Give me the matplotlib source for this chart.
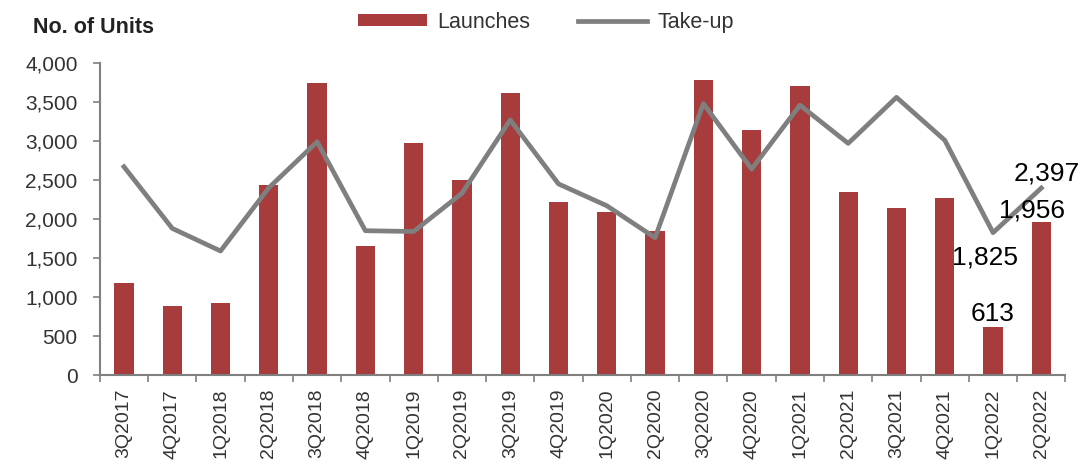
import numpy as np
import matplotlib
matplotlib.use("Agg")
import matplotlib.pyplot as plt
from matplotlib.ticker import FuncFormatter, FixedLocator

plt.rcParams['font.family'] = ['Liberation Sans', 'DejaVu Sans']

# Data
quarters = ["3Q2017", "4Q2017", "1Q2018", "2Q2018", "3Q2018", "4Q2018",
            "1Q2019", "2Q2019", "3Q2019", "4Q2019", "1Q2020", "2Q2020",
            "3Q2020", "4Q2020", "1Q2021", "2Q2021", "3Q2021", "4Q2021",
            "1Q2022", "2Q2022"]
launches = [1180, 880, 920, 2430, 3750, 1650, 2980, 2500, 3620, 2220,
            2090, 1850, 3780, 3140, 3710, 2350, 2140, 2270, 613, 1956]
take_up = [2670, 1880, 1590, 2400, 2990, 1850, 1840, 2330, 3270, 2450,
           2170, 1760, 3480, 2640, 3460, 2970, 3560, 3010, 1825, 2397]

bar_color = "#A83B3B"
line_color = "#7F7F7F"
axis_color = "#808080"

fig = plt.figure(figsize=(10.85, 4.65), dpi=100)
ax = fig.add_axes([0.092, 0.1935, 0.89, 0.671])

x = np.arange(len(quarters))
bars = ax.bar(x, launches, width=0.4, color=bar_color, label="Launches", zorder=2)
line, = ax.plot(x, take_up, color=line_color, linewidth=3.4, label="Take-up", zorder=3)

ax.set_ylim(0, 4000)
ax.set_xlim(-0.5, len(quarters) - 0.5)
ax.set_yticks(np.arange(0, 4001, 500))
ax.yaxis.set_major_formatter(FuncFormatter(lambda v, p: f"{int(v):,}"))
ax.tick_params(axis='y', labelsize=15, colors=axis_color, labelcolor="#333333",
               length=5, width=1.2, direction='out', pad=11)

ax.set_xticks(x)
ax.set_xticklabels(quarters, rotation=90, fontsize=14, color="#333333")
ax.tick_params(axis='x', length=0, pad=10)
ax.xaxis.set_minor_locator(FixedLocator(np.arange(-0.5, len(quarters), 1.0)))
ax.tick_params(axis='x', which='minor', length=5, width=1.2, colors=axis_color,
               direction='out')

for s in ["top", "right"]:
    ax.spines[s].set_visible(False)
for s in ["left", "bottom"]:
    ax.spines[s].set_color(axis_color)
    ax.spines[s].set_linewidth(1.5)

# Annotations for latest quarters
i1, i2 = len(quarters) - 2, len(quarters) - 1
ax.annotate(f"{launches[i1]:,}", (x[i1], launches[i1]), xytext=(0, 1),
            textcoords="offset points", ha="center", va="bottom", fontsize=19)
ax.annotate(f"{take_up[i1]:,}", (x[i1], take_up[i1]), xytext=(-6, -9),
            textcoords="offset points", ha="center", va="top", fontsize=19)
ax.annotate(f"{launches[i2]:,}", (x[i2], launches[i2]), xytext=(-7, 0),
            textcoords="offset points", ha="center", va="bottom", fontsize=19)
ax.annotate(f"{take_up[i2]:,}", (x[i2], take_up[i2]), xytext=(4, 2),
            textcoords="offset points", ha="center", va="bottom", fontsize=19,
            annotation_clip=False)

fig.text(0.03, 0.94, "No. of Units", fontsize=15.5, fontweight="bold",
         color="#222222", va="center")

fig.legend(handles=[bars, line], labels=["Launches", "Take-up"], loc="center",
           bbox_to_anchor=(0.503, 0.952), ncol=2, frameon=False, fontsize=15.5,
           handlelength=3.2, handleheight=0.5, handletextpad=0.5,
           columnspacing=2.2, labelcolor="#333333")

fig.savefig("out.png", dpi=100)
